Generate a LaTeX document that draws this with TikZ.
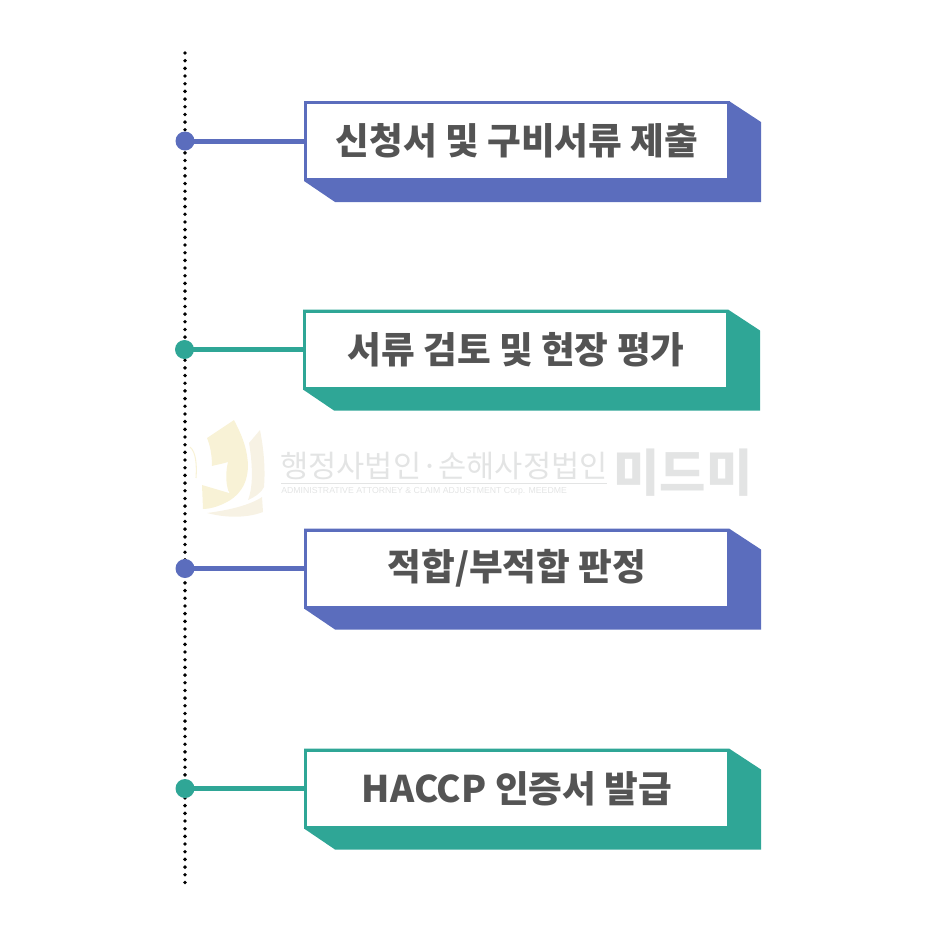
\documentclass[tikz,border=0pt]{standalone}
\usepackage{fontspec}
\setmainfont{Noto Sans CJK KR}
\newfontfamily\latinfont{Liberation Sans}
\definecolor{stepblue}{HTML}{5B6DBD}
\definecolor{stepteal}{HTML}{2FA696}
\definecolor{logotan}{HTML}{F8F2D6}
\definecolor{logopale}{HTML}{F7F2E4}
\definecolor{marktext}{HTML}{E3E4E4}
\tikzset{
stepbox/.style = {draw=#1, fill=white, line width=2.25pt, outer sep=0pt,
                  minimum width=317.25pt, minimum height=57.75pt, inner sep=0pt,
                  text=black!67, font=\fontsize{27.5}{27.5}\selectfont\bfseries},
stepdot/.style = {circle, fill=#1, inner sep=0pt, minimum size=14.25pt},
steplink/.style = {draw=#1, line width=3.75pt, shorten <=-1.5pt},
}
\begin{document}
\begin{tikzpicture}[x=0.75pt, y=-0.75pt]
\useasboundingbox (0,0) rectangle (936,936);

% watermark
\fill[logotan] (234,420) .. controls (240,432) and (247,445) .. (248,465)
    .. controls (248,485) and (238,497) .. (225,503)
    .. controls (217,507) and (209,509) .. (203,509) -- (202,485) -- (229,493)
    .. controls (225,482) and (226,470) .. (228,462)
    .. controls (222,464) and (215,465) .. (212,466)
    .. controls (212,455) and (210,445) .. (207,438) -- cycle;
\draw[white, line width=0.6pt] (212,466) -- (229,493);
\fill[logopale] (249,443) -- (260,430) .. controls (265,455) and (265,475) .. (264,487)
    .. controls (262,492) and (255,497) .. (248,500)
    .. controls (254,485) and (252,460) .. (249,443) -- cycle;
\fill[logopale] (207,513) .. controls (230,510) and (250,505) .. (262,497)
    -- (263,512) .. controls (250,517) and (230,519) .. (207,513) -- cycle;
\draw[logotan, line width=0.8pt] (190,447) .. controls (196,452) and (197,465) .. (196,478);
\node[text=marktext, font=\fontsize{23}{23}\selectfont, inner sep=0pt, text height=18pt, text depth=0pt] (markname) at (444,465) {행정사법인·손해사정법인};
\node[text=marktext, font=\fontsize{37.8}{37.8}\selectfont\bfseries, inner sep=0pt] (markshort) at (683,473) {미드미};
\node[text=marktext, font=\latinfont\fontsize{6.55}{6.55}\selectfont, inner sep=0pt, anchor=west] (markeng) at (281,491) {ADMINISTRATIVE ATTORNEY \& CLAIM ADJUSTMENT Corp. MEEDME};
\draw[marktext, line width=0.5pt] (281,483) -- (607,483);

% timeline
\coordinate (linetop) at (185,53);
\coordinate (linebottom) at (185,886);
\draw[line width=2.9pt, line cap=round, dash pattern=on 0pt off 5.76pt] (linetop) -- (linebottom);

% steps
\foreach \n/\x/\y/\col/\txt in {1/0/101/stepblue/{신청서 및 구비서류 제출},
                                2/-1/309.5/stepteal/{서류 검토 및 현장 평가},
                                3/0/528.5/stepblue/{적합/부적합 판정},
                                4/0/748.5/stepteal/{HACCP 인증서 발급}}{
\fill[\col] (729+\x,\y) -- ++(32,21) -- ++(0,80) -- ++(-426,0) -- ++(-31,-21) -- (304+\x,\y) -- cycle;
\node[stepbox=\col] (box\n) at (517+\x,\y+40) {\raisebox{1pt}{\txt}};
\node[stepdot=\col] (dot\n) at (185+\x/2,\y+40) {};
\draw[steplink=\col] (dot\n) -- (box\n);
}
\end{tikzpicture}
\end{document}
